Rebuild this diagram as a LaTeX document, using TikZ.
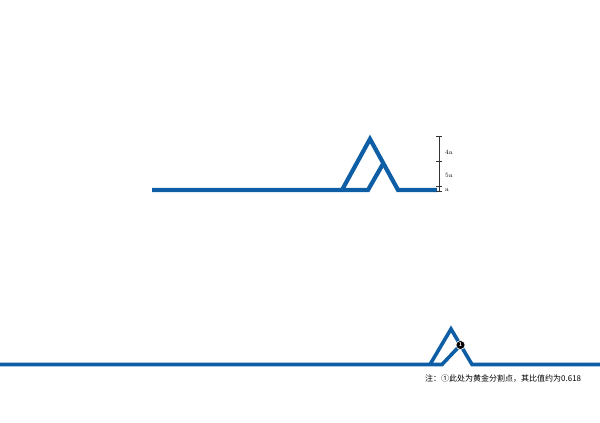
\documentclass[tikz,border=0pt]{standalone}
\usepackage{fontspec}
\newfontfamily\cjk{Noto Sans CJK SC}
\definecolor{ridge}{RGB}{14,94,166}
\begin{document}
\begin{tikzpicture}[x=1pt,y=-1pt,
  ridgeline/.style={draw=ridge,line width=4.2pt,line join=miter,line cap=butt},
  scalebar/.style={draw=black!80,line width=0.5pt},
  lab/.style={font=\fontsize{6.5}{7}\selectfont,anchor=west,inner sep=0pt},
  note/.style={font=\cjk\fontsize{8}{9}\selectfont,anchor=west,inner sep=0pt}]
\useasboundingbox (0,0) rectangle (600,423);
% upper figure
\coordinate (uA) at (152,190);
\coordinate (uL) at (342,190);
\coordinate (uT) at (370,139);
\coordinate (uR) at (398,190);
\coordinate (uE) at (437,190);
\coordinate (uI) at (368,190);
\coordinate (uG) at (383.5,163);
\draw[ridgeline] (uA) -- (uI) -- (uG);
\draw[ridgeline] (uL) -- (uT) -- (uR) -- (uE);
% scale bar
\coordinate (s0) at (439,136.5);
\coordinate (s1) at (439,161);
\coordinate (s2) at (439,186.5);
\coordinate (s3) at (439,191.5);
\draw[scalebar] (s0) -- (s3);
\foreach \p in {s0,s1,s2,s3} \draw[scalebar] ([xshift=-3]\p) -- ([xshift=3]\p);
\node[lab] (l4) at (445,152) {4a};
\node[lab] (l5) at (445,175) {5a};
\node[lab] (l1) at (445,190) {a};
% lower figure
\coordinate (dA) at (0,364.5);
\coordinate (dL) at (430,364.5);
\coordinate (dT) at (451,329);
\coordinate (dR) at (472,364.5);
\coordinate (dE) at (600,364.5);
\coordinate (dI) at (442,364.5);
\coordinate (dG) at (460.5,345);
\draw[ridgeline,line width=3.6pt] (dA) -- (dI) -- (dG);
\draw[ridgeline,line width=3.6pt] (dL) -- (dT) -- (dR) -- (dE);
\node[circle,fill=black,draw=white,line width=0.6pt,inner sep=0pt,minimum size=9pt,
  text=white,font=\fontsize{6}{6}\selectfont\bfseries] (gp) at (dG) {1};
\node[note] (nt) at (425,378.5) {注：①此处为黄金分割点，其比值约为0.618};
\end{tikzpicture}
\end{document}
